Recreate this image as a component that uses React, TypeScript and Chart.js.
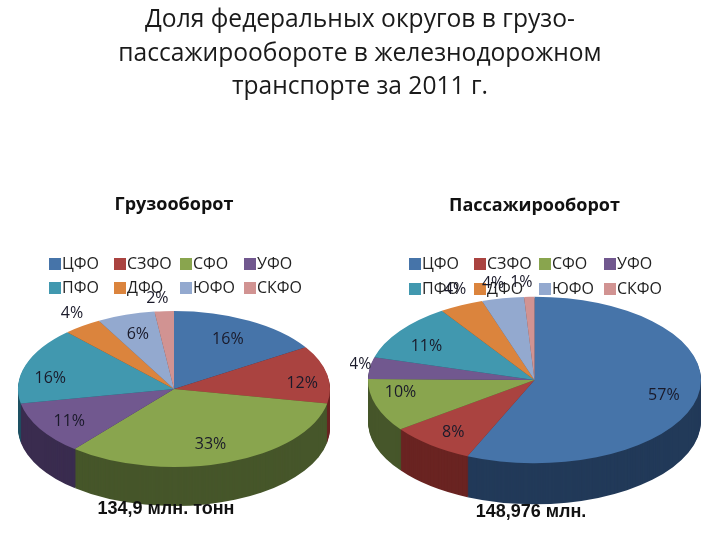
import React, { useEffect, useRef } from "react";
import { Chart, registerables } from "chart.js";

Chart.register(...registerables);

const mainTitle = ["Доля федеральных округов в грузо-", "пассажирообороте в железнодорожном", "транспорте за 2011 г."];
const districts = ["ЦФО", "СЗФО", "СФО", "УФО", "ПФО", "ДФО", "ЮФО", "СКФО"];
const cargoValues = [16, 12, 33, 11, 16, 4, 6, 2];
const passengerValues = [56.6, 8.3, 10.3, 4.2, 11.2, 4.3, 4.1, 1.0];
const cargoTitle = "Грузооборот";
const passengerTitle = "Пассажирооборот";
const cargoCaption = "134,9 млн. тонн";
const passengerCaption = "148,976 млн.";
const topColors = ["#4674A9", "#AA4340", "#89A54E", "#71588F", "#4198AF", "#DB843D", "#93A9CF", "#D19392"];
const wallColors = ["#223A59", "#6A2422", "#46562A", "#3A2C4F", "#1F5163", "#7A4418", "#4D5A72", "#70504F"];
const cargoLabelReach = [0.73, 0.83, 0.73, 0.78, 0.8, 1.2, 0.75, 1.19];
const passengerLabelReach = [0.8, 0.78, 0.82, 1.07, 0.78, 1.18, 1.18, 1.17];
const cargoLabelNudgeX = [-1, 1, -2, 0, -5, 8, 0, -5];
const cargoLabelNudgeY = [0, 7, 2, 1, 9, 0, 1, 2];
const passengerLabelNudgeX = [-1, 0, -4, 2, -3, 7, -4, -7];
const passengerLabelNudgeY = [2, 2, -8, -3, 5, -2, 0, 0];

const LABEL_FONT = '16px "Open Sans"';

function pie3d(cfg: any) {
  return {
    id: "pie3d",
    beforeDatasetsDraw(chart: any) {
      const ctx = chart.ctx;
      const arcs = chart.getDatasetMeta(0).data;
      const cyC = arcs[0].y;
      for (let d = cfg.depth; d >= 1; d--) {
        arcs.forEach((a: any, i: number) => {
          ctx.save();
          ctx.translate(0, cfg.cy + d);
          ctx.scale(1, cfg.squash);
          ctx.translate(0, -cyC);
          ctx.beginPath();
          ctx.moveTo(a.x, a.y);
          ctx.arc(a.x, a.y, a.outerRadius, a.startAngle, a.endAngle);
          ctx.closePath();
          ctx.fillStyle = wallColors[i];
          ctx.fill();
          ctx.restore();
        });
      }
      ctx.save();
      ctx.translate(0, cfg.cy);
      ctx.scale(1, cfg.squash);
      ctx.translate(0, -cyC);
    },
    afterDatasetsDraw(chart: any) {
      const ctx = chart.ctx;
      ctx.restore();
      const arcs = chart.getDatasetMeta(0).data;
      // legend, two rows of four aligned columns
      ctx.save();
      ctx.font = LABEL_FONT;
      ctx.textBaseline = "middle";
      ctx.textAlign = "left";
      districts.forEach((name, i) => {
        const col = i % 4;
        const row = Math.floor(i / 4);
        const x = cfg.legendX[col];
        const y = cfg.legendY[row];
        ctx.fillStyle = topColors[i];
        ctx.fillRect(x, y - 6, 12, 12);
        ctx.fillStyle = "#222";
        ctx.fillText(name, x + 13, y);
      });
      // percent labels
      ctx.textAlign = "center";
      ctx.fillStyle = "#1a1a2a";
      arcs.forEach((a: any, i: number) => {
        const mid = (a.startAngle + a.endAngle) / 2;
        const r = a.outerRadius * cfg.reach[i];
        const x = a.x + Math.cos(mid) * r + cfg.nudgeX[i];
        const y = cfg.cy + Math.sin(mid) * r * cfg.squash + cfg.nudgeY[i];
        ctx.fillText(Math.round(cfg.values[i]) + "%", x, y);
      });
      // caption under the pie
      ctx.font = 'bold 18px "Liberation Sans"';
      ctx.fillStyle = "#111";
      ctx.fillText(cfg.caption, cfg.captionX, cfg.captionY);
      ctx.restore();
    },
  };
}

function makeChart(canvas: HTMLCanvasElement, cfg: any) {
  return new Chart(canvas, {
    type: "pie",
    data: {
      labels: districts,
      datasets: [{ data: cfg.values, backgroundColor: topColors, borderWidth: 0, clip: false } as any],
    },
    options: {
      responsive: false,
      animation: false,
      layout: { padding: cfg.padding },
      plugins: {
        legend: { display: false },
        tooltip: { enabled: false },
        title: {
          display: true,
          text: cfg.title,
          color: "#111",
          font: { family: "Open Sans", size: 18, weight: "bold" },
          padding: { top: cfg.titleTop, bottom: 4 },
        },
      },
    },
    plugins: [pie3d(cfg)],
  } as any);
}

const cargoCfg = {
  values: cargoValues,
  title: cargoTitle,
  caption: cargoCaption,
  captionX: 166,
  captionY: 509,
  titleTop: 194,
  padding: { left: 18, right: 30, top: 0, bottom: 0 },
  cy: 389,
  squash: 0.5,
  depth: 39,
  reach: cargoLabelReach,
  nudgeX: cargoLabelNudgeX,
  nudgeY: cargoLabelNudgeY,
  legendX: [49, 114, 180, 244],
  legendY: [264, 288],
};
const passengerCfg = {
  values: passengerValues,
  title: passengerTitle,
  caption: passengerCaption,
  captionX: 181,
  captionY: 512,
  titleTop: 195,
  padding: { left: 18, right: 19, top: 0, bottom: 0 },
  cy: 380,
  squash: 0.5,
  depth: 41,
  reach: passengerLabelReach,
  nudgeX: passengerLabelNudgeX,
  nudgeY: passengerLabelNudgeY,
  legendX: [59, 124, 189, 254],
  legendY: [264, 289],
};

export default function App() {
  const leftRef = useRef<HTMLCanvasElement>(null);
  const rightRef = useRef<HTMLCanvasElement>(null);
  useEffect(() => {
    document.body.style.margin = "0";
    const a = makeChart(leftRef.current!, cargoCfg);
    const b = makeChart(rightRef.current!, passengerCfg);
    return () => {
      a.destroy();
      b.destroy();
    };
  }, []);
  return (
    <div style={{ position: "absolute", left: 0, top: 0, width: 720, height: 540, background: "#fff", overflow: "hidden" }}>
      <canvas ref={leftRef} width={360} height={640} style={{ position: "absolute", left: 0, top: 0 }} />
      <canvas ref={rightRef} width={370} height={640} style={{ position: "absolute", left: 350, top: 0 }} />
      <div
        style={{
          position: "absolute",
          left: 0,
          top: 1,
          width: 720,
          textAlign: "center",
          fontFamily: "Open Sans",
          fontSize: 24.6,
          lineHeight: "33.5px",
          color: "#1a1a1a",
        }}
      >
        {mainTitle.map((t) => (
          <div key={t}>{t}</div>
        ))}
      </div>
    </div>
  );
}
